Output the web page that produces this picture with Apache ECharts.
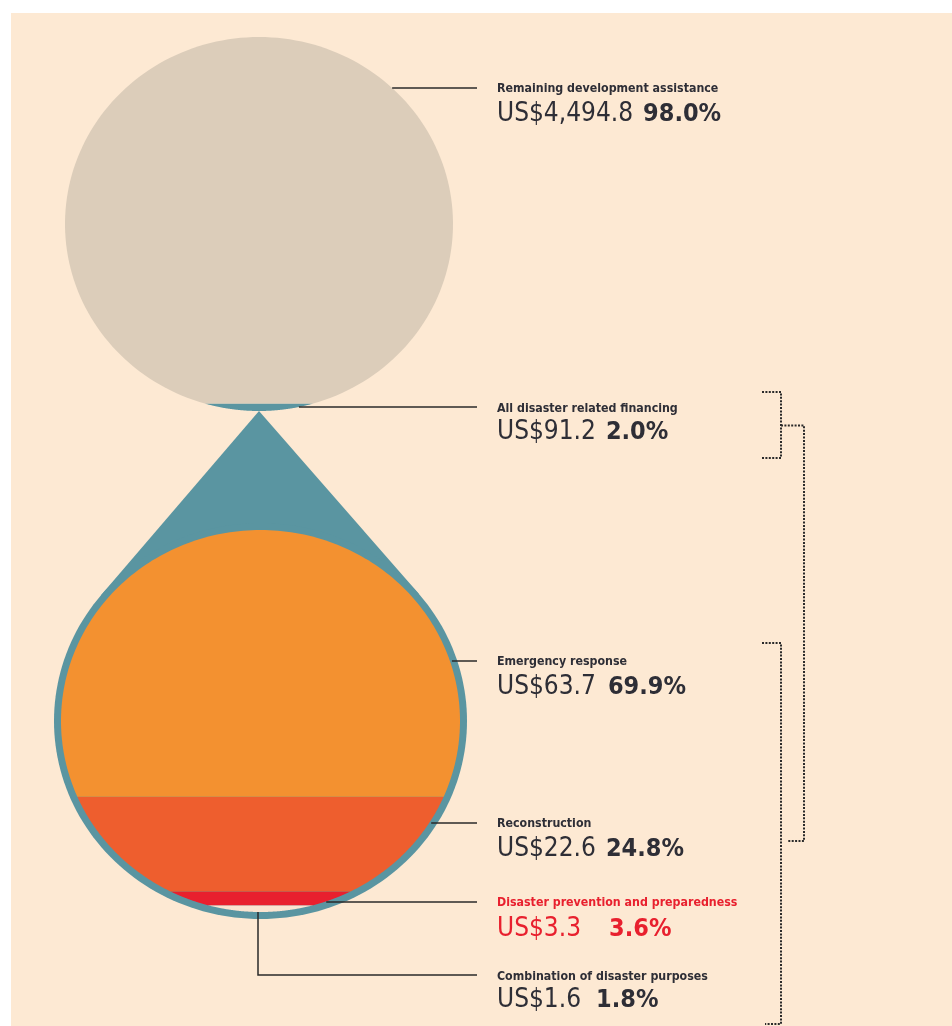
<!DOCTYPE html>
<html><head><meta charset="utf-8">
<script src="https://cdn.jsdelivr.net/npm/echarts@6/dist/echarts.min.js"></script>
<style>html,body{margin:0;padding:0;background:#fff}#c{width:952px;height:1026px}</style>
</head><body><div id="c"></div>
<script>
// ---------------- DATA ----------------
const topNames = ['All disaster related financing', 'Remaining development assistance'];
const topAmounts = [91.2, 4494.8];
const topShares = [2.0, 98.0];
const bottomNames = ['Combination of disaster purposes', 'Disaster prevention and preparedness', 'Reconstruction', 'Emergency response'];
const bottomAmounts = [1.6, 3.3, 22.6, 63.7];
const bottomShares = [1.8, 3.6, 24.8, 69.9];
const currencyPrefix = 'US$';

// ---------------- LAYOUT / STYLE ----------------
const TOP = {cx: 259, cy: 224, rx: 194, ry: 187};
const BOT = {cx: 260.5, cy: 721, rx: 199.5, ry: 191};
const BORDER = 7;
const TEAL = '#5A95A1';
const topColors = [TEAL, '#DCCDBA'];
const bottomColors = ['#FBE4D0', '#E8202E', '#EE5E2E', '#F39130'];
const TEXT = '#2E2E36';
const RED = '#E8202E';
const FAM = "'Liberation Sans Narrow','DejaVu Sans Condensed','Noto Sans',sans-serif";
const labelX = 497, lineEndX = 477;
// label layout: which group/index, leader y, title y, value y, gap between amount and pct
const labelLayout = [
  {grp: 'top', i: 1, lineY: 88, titleY: 88.5, valueY: 114.5, gap: 10},
  {grp: 'top', i: 0, lineY: 407, titleY: 408.5, valueY: 432.5, gap: 10},
  {grp: 'bot', i: 3, lineY: 661, titleY: 661.5, valueY: 687.5, gap: 12},
  {grp: 'bot', i: 2, lineY: 823, titleY: 824, valueY: 849.5, gap: 10},
  {grp: 'bot', i: 1, lineY: 902, titleY: 903, valueY: 929.5, gap: 28, red: true},
  {grp: 'bot', i: 0, lineY: 975, titleY: 976.5, valueY: 1000.5, gap: 15, elbow: true}
];

function sum(a) { return a.reduce((s, v) => s + v, 0); }
function bandData(shares, colors, names) {
  const T = sum(shares);
  let acc = 0;
  return shares.map((v, k) => {
    const lo = acc; acc += v;
    return {name: names[k], value: [lo, acc, T], itemStyle: {color: colors[k]}};
  });
}
function bandRender(params, api) {
  const lo = api.value(0), hi = api.value(1), T = api.value(2);
  const sLo = Math.max(-1, Math.min(1, 2 * lo / T - 1));
  const sHi = Math.max(-1, Math.min(1, 2 * hi / T - 1));
  const tLo = Math.asin(sLo), tHi = Math.asin(sHi);
  const N = 90, pts = [];
  for (let k = 0; k <= N; k++) {
    const t = tHi + (tLo - tHi) * k / N;
    pts.push(api.coord([Math.cos(t), (Math.sin(t) + 1) * T / 2]));
  }
  for (let k = N; k >= 0; k--) {
    const t = tHi + (tLo - tHi) * k / N;
    pts.push(api.coord([-Math.cos(t), (Math.sin(t) + 1) * T / 2]));
  }
  return {type: 'polygon', shape: {points: pts}, style: {fill: api.visual('color')}};
}

// ---------- decorations ----------
function ellipsePts(E, n) {
  const p = [];
  for (let k = 0; k < n; k++) { const t = 2 * Math.PI * k / n; p.push([E.cx + E.rx * Math.cos(t), E.cy + E.ry * Math.sin(t)]); }
  return p;
}
const OUT = {cx: BOT.cx, cy: BOT.cy, rx: BOT.rx + BORDER, ry: BOT.ry + BORDER};
const apex = [TOP.cx, TOP.cy + TOP.ry];
function tangents(P, E) {
  const px = (P[0] - E.cx) / E.rx, py = (P[1] - E.cy) / E.ry;
  const d2 = px * px + py * py, d = Math.sqrt(d2);
  const a = 1 / d2, b = Math.sqrt(1 - 1 / d2) / d;
  const res = [];
  [1, -1].forEach(sg => {
    const ux = a * px + sg * b * (-py), uy = a * py + sg * b * px;
    res.push([E.cx + ux * E.rx, E.cy + uy * E.ry]);
  });
  return res;
}
const tg = tangents(apex, OUT);

function edgeX(E, y) {
  const s = (y - E.cy) / E.ry;
  return E.cx + E.rx * Math.sqrt(Math.max(0, 1 - s * s));
}
function fmtAmt(v) { return currencyPrefix + v.toLocaleString('en-US', {minimumFractionDigits: 1, maximumFractionDigits: 1}); }

const graphics = [
  {type: 'rect', z: -10, shape: {x: 11, y: 13, width: 952 - 11, height: 1026 - 13}, style: {fill: '#FDE9D3'}},
  {type: 'polygon', z: 1, shape: {points: [apex, tg[0], [OUT.cx, OUT.cy], tg[1]]}, style: {fill: TEAL}},
  {type: 'polygon', z: 1, shape: {points: ellipsePts(OUT, 200)}, style: {fill: TEAL}}
];

labelLayout.forEach(L => {
  const names = L.grp === 'top' ? topNames : bottomNames;
  const amts = L.grp === 'top' ? topAmounts : bottomAmounts;
  const shares = L.grp === 'top' ? topShares : bottomShares;
  const E = L.grp === 'top' ? TOP : BOT;
  const col = L.red ? RED : TEXT;
  if (L.elbow) {
    graphics.push({type: 'polyline', z: 10, shape: {points: [[E.cx - 2.5, E.cy + E.ry], [E.cx - 2.5, L.lineY], [lineEndX, L.lineY]]},
      style: {stroke: '#2a2a2a', lineWidth: 1.5, fill: null}});
  } else {
    graphics.push({type: 'line', z: 10, shape: {x1: edgeX(E, L.lineY) + (L.grp === 'bot' ? 2 : 0), y1: L.lineY, x2: lineEndX, y2: L.lineY},
      style: {stroke: '#2a2a2a', lineWidth: 1.5}});
  }
  graphics.push({type: 'text', z: 10, style: {x: labelX, y: L.titleY, text: names[L.i], fill: col,
    font: 'bold 12.3px ' + FAM, align: 'left', verticalAlign: 'middle', textAlign: 'left', textVerticalAlign: 'middle'}});
  graphics.push({type: 'text', z: 10, style: {x: labelX, y: L.valueY,
    text: '{a|' + fmtAmt(amts[L.i]) + '}{b|' + shares[L.i].toFixed(1) + '%}',
    align: 'left', verticalAlign: 'middle', textAlign: 'left', textVerticalAlign: 'middle',
    rich: {
      a: {font: '26px ' + FAM, fill: col, color: col},
      b: {font: 'bold 25px ' + FAM, fill: col, color: col, padding: [0, 0, 0, L.gap]}
    }}});
});

// dotted brackets
const dot = {stroke: '#2a2a2a', lineWidth: 2, lineDash: [2, 1.4], fill: null};
[
  [[762, 392], [781, 392], [781, 458], [762, 458]],
  [[781, 425.5], [804, 425.5], [804, 841], [787, 841]],
  [[762, 643], [781, 643], [781, 1024], [765, 1024]]
].forEach(p => graphics.push({type: 'polyline', z: 10, shape: {points: p}, style: dot}));

const chart = echarts.init(document.getElementById('c'), null, {renderer: 'canvas'});
chart.setOption({
  animation: false,
  backgroundColor: '#ffffff',
  grid: [
    {left: TOP.cx - TOP.rx, top: TOP.cy - TOP.ry, width: 2 * TOP.rx, height: 2 * TOP.ry},
    {left: BOT.cx - BOT.rx, top: BOT.cy - BOT.ry, width: 2 * BOT.rx, height: 2 * BOT.ry}
  ],
  xAxis: [
    {type: 'value', gridIndex: 0, min: -1, max: 1, show: false},
    {type: 'value', gridIndex: 1, min: -1, max: 1, show: false}
  ],
  yAxis: [
    {type: 'value', gridIndex: 0, min: 0, max: sum(topShares), show: false},
    {type: 'value', gridIndex: 1, min: 0, max: sum(bottomShares), show: false}
  ],
  series: [
    {type: 'custom', name: 'top', xAxisIndex: 0, yAxisIndex: 0, z: 5, renderItem: bandRender,
      data: bandData(topShares, topColors, topNames), clip: false},
    {type: 'custom', name: 'bottom', xAxisIndex: 1, yAxisIndex: 1, z: 5, renderItem: bandRender,
      data: bandData(bottomShares, bottomColors, bottomNames), clip: false}
  ],
  graphic: graphics
});
</script></body></html>
